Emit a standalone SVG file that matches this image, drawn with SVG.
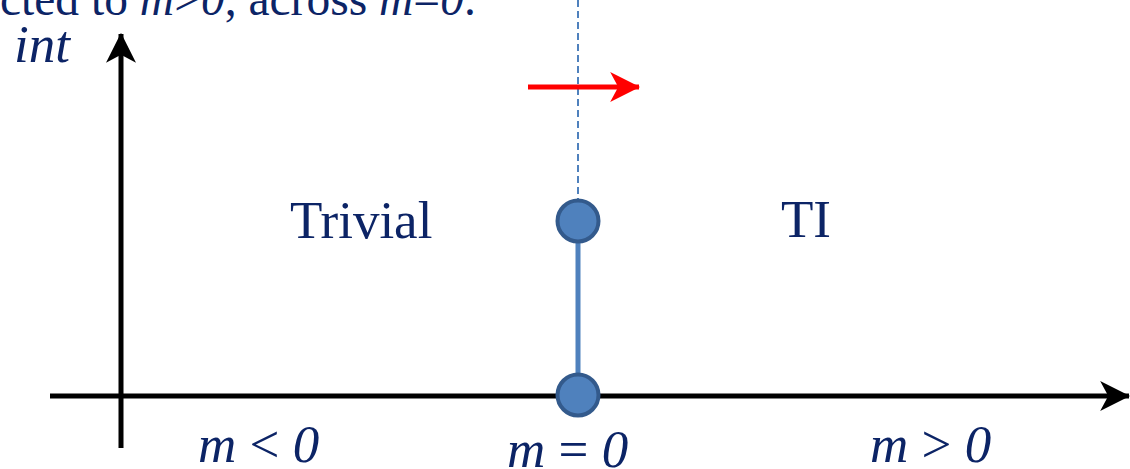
<svg xmlns="http://www.w3.org/2000/svg" width="1130" height="469" viewBox="0 0 1130 469">
<style>
.t{font-family:"Liberation Serif","Times New Roman",serif;fill:#0C2466;font-size:53px}
.i{font-style:italic}
.axis{stroke:#000;stroke-width:5;fill:none}
.dot{fill:#4F81BD;stroke:#335A8C;stroke-width:4}
</style>
<defs>
<marker id="ah" markerUnits="userSpaceOnUse" markerWidth="30" markerHeight="30" refX="25" refY="13" orient="auto" viewBox="0 0 26 26">
<path d="M0,0 L26,13 L0,26 L7,13 Z" fill="#000"/>
</marker>
<marker id="ahr" markerUnits="userSpaceOnUse" markerWidth="30" markerHeight="30" refX="25" refY="13" orient="auto" viewBox="0 0 26 26">
<path d="M0,0 L26,13 L0,26 L7,13 Z" fill="#FF0000"/>
</marker>
</defs>
<rect width="1130" height="469" fill="#fff"/>
<g id="connectors">
<line class="axis" x1="50" y1="396" x2="1129" y2="396" marker-end="url(#ah)"/>
<line class="axis" x1="121" y1="448" x2="121" y2="34" marker-end="url(#ah)"/>
<line x1="578" y1="0" x2="578" y2="200" stroke="#4F81BD" stroke-width="2" stroke-dasharray="7 4"/>
<line x1="578" y1="221" x2="578" y2="394" stroke="#4F81BD" stroke-width="5"/>
<line x1="528" y1="87" x2="639" y2="87" stroke="#FF0000" stroke-width="5" marker-end="url(#ahr)"/>
</g>
<g id="node-top"><circle class="dot" cx="578" cy="221" r="20.5"/></g>
<g id="node-bottom"><circle class="dot" cx="578" cy="395" r="20.5"/></g>
<g id="title"><text class="t" x="0" y="15" style="font-size:47.5px">cted to <tspan class="i">m</tspan>&gt;<tspan class="i">0</tspan>, across <tspan class="i">m</tspan>=<tspan class="i">0</tspan>.</text></g>
<g id="label-int"><text class="t i" x="14" y="62">int</text></g>
<g id="label-trivial"><text class="t" x="290" y="238">Trivial</text></g>
<g id="label-ti"><text class="t" x="781" y="237">TI</text></g>
<g id="label-mlt"><text class="t" x="198" y="462"><tspan class="i">m</tspan> &lt; <tspan class="i">0</tspan></text></g>
<g id="label-meq"><text class="t" x="507" y="467"><tspan class="i">m</tspan> = <tspan class="i">0</tspan></text></g>
<g id="label-mgt"><text class="t" x="870" y="462"><tspan class="i">m</tspan> &gt; <tspan class="i">0</tspan></text></g>
</svg>
